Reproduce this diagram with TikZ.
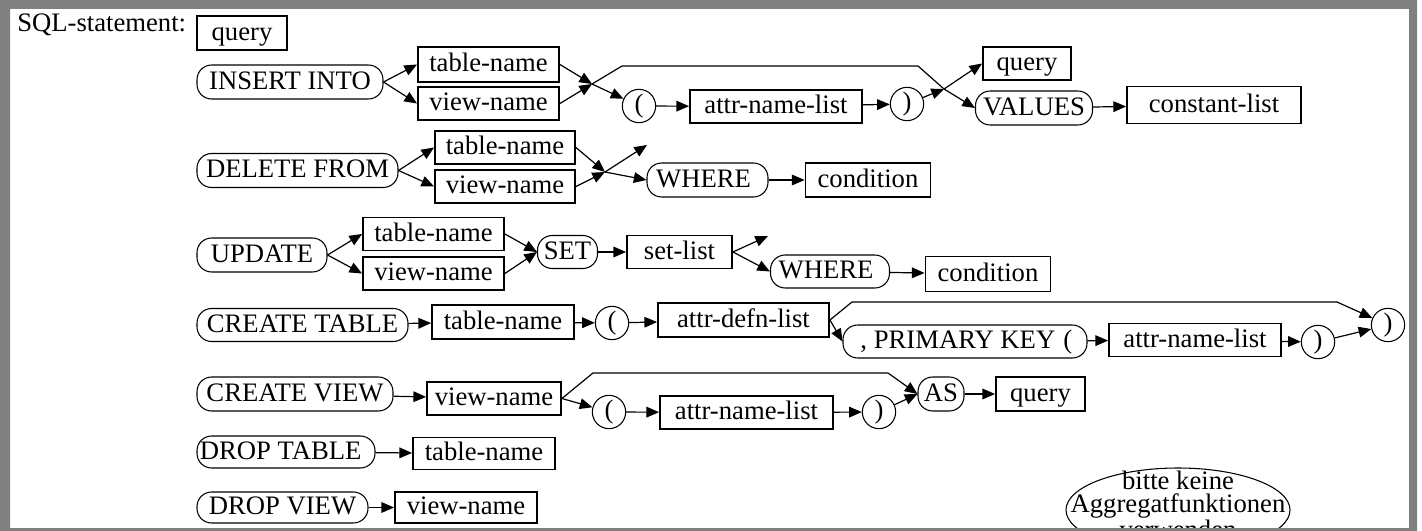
\documentclass[tikz,border=0pt]{standalone}
\usepackage{fontspec}
\setmainfont{Liberation Serif}
\usetikzlibrary{arrows.meta}

\begin{document}
\begin{tikzpicture}[x=0.75pt,y=0.75pt,yscale=-1,xscale=1,
    font=\fontsize{20}{18.75}\selectfont,
    sz/.style 2 args={minimum width=#1*0.75pt,minimum height=#2*0.75pt},
    box/.style={draw,line width=1.4pt,inner sep=0pt,text height=14.2pt,text depth=3pt},
    pill/.style={draw,line width=0.8pt,rounded corners=11pt,inner sep=0pt,text height=14.2pt,text depth=3pt},
    paren/.style={draw,circle,line width=0.8pt,inner sep=0pt,minimum size=25pt},
    arr/.style={line width=0.9pt,-{Triangle[length=9.5pt,width=8pt]}},
    ln/.style={line width=0.9pt}]
%set diagram left start at 0, and has height of 531
\useasboundingbox (0,0) rectangle (1422,531);
\fill [white] (0,0) rectangle (1422,531);

% Text Node
    \node [anchor=base west,inner sep=0pt] (sqllbl) at (17,32) {SQL-statement:};
%Shape: Rectangle
    \node [box,sz={90}{34}] (qry0) at (242,33) {query};

%INSERT INTO
    \node [pill,sz={186}{34}] (ins) at (290,82) {INSERT INTO};
    \node [box,sz={141}{35}] (tn1) at (488.5,64.5) {table-name};
    \node [box,sz={141}{33}] (vn1) at (488.5,103.5) {view-name};
    \coordinate (j1) at (592,84);
    \node [paren] (op1) at (639,106) {(};
    \node [box,sz={172}{33}] (anl1) at (776,106.5) {attr-name-list};
    \node [paren] (cp1) at (907,104) {)};
    \coordinate (b1a) at (622,66);
    \coordinate (b1b) at (918,66);
    \coordinate (j1b) at (944,89);
    \node [box,sz={88}{33}] (qry1) at (1027,63.5) {query};
    \node [pill,sz={117}{34}] (vals) at (1034,108) {VALUES};
    \node [box,sz={174}{37}] (cl) at (1214,105) {constant-list};
%Straight Lines
    \draw [arr] (ins.east) -- (tn1.west);
    \draw [arr] (ins.east) -- (vn1.west);
    \draw [arr] (tn1.east) -- (j1);
    \draw [arr] (vn1.east) -- (j1);
    \draw [arr] (j1) -- (op1);
    \draw [ln] (j1) -- (b1a) -- (b1b) -- (j1b);
    \draw [arr] (op1) -- (anl1);
    \draw [arr] (anl1) -- (cp1);
    \draw [arr] (cp1) -- (j1b);
    \draw [arr] (j1b) -- (qry1.west);
    \draw [arr] (j1b) -- (vals.west);
    \draw [arr] (vals) -- (cl);

%DELETE FROM
    \node [pill,sz={201}{34}] (del) at (297.5,170.5) {DELETE FROM};
    \node [box,sz={140}{33}] (tn2) at (505,147.5) {table-name};
    \node [box,sz={140}{33}] (vn2) at (505,186.5) {view-name};
    \coordinate (j2) at (605,172);
    \coordinate (e2) at (647,145);
    \node [pill,sz={121}{34}] (wh2) at (707.5,180) {WHERE\hspace*{6pt}};
    \node [box,sz={125}{34}] (cond2) at (868,180) {condition};
%Straight Lines
    \draw [arr] (del.east) -- (tn2.west);
    \draw [arr] (del.east) -- (vn2.west);
    \draw [arr] (tn2.east) -- (j2);
    \draw [arr] (vn2.east) -- (j2);
    \draw [arr] (j2) -- (e2);
    \draw [arr] (j2) -- (wh2.west);
    \draw [arr] (wh2) -- (cond2);

%UPDATE
    \node [pill,sz={130}{34}] (upd) at (262,255) {UPDATE};
    \node [box,sz={141}{33}] (tn3) at (433.5,234) {table-name};
    \node [box,sz={141}{33}] (vn3) at (433.5,273.5) {view-name};
    \node [pill,sz={60}{33}] (set) at (567.5,252) {SET};
    \node [box,sz={105}{33}] (sl) at (679.5,252) {set-list};
    \coordinate (e3) at (768,236);
    \node [pill,sz={119}{33}] (wh3) at (830,271.5) {WHERE\hspace*{6pt}};
    \node [box,sz={125}{35}] (cond3) at (988,274) {condition};
%Straight Lines
    \draw [arr] (upd.east) -- (tn3.west);
    \draw [arr] (upd.east) -- (vn3.west);
    \draw [arr] (tn3.east) -- (set.west);
    \draw [arr] (vn3.east) -- (set.west);
    \draw [arr] (set) -- (sl);
    \draw [arr] (sl.east) -- (e3);
    \draw [arr] (sl.east) -- (wh3.west);
    \draw [arr] (wh3) -- (cond3);

%CREATE TABLE
    \node [pill,sz={211}{33}] (crt) at (302.5,325) {CREATE TABLE};
    \node [box,sz={142}{34}] (tn4) at (503,322) {table-name};
    \node [paren] (op4) at (612,323) {(};
    \node [box,sz={171}{34}] (adl) at (743.5,320) {attr-defn-list};
    \coordinate (b4a) at (852,302);
    \coordinate (b4b) at (1337,302);
    \node [pill,sz={244}{33}] (pk) at (965,341.5) {\hspace*{8pt}, PRIMARY KEY\hspace{6pt}(\hspace*{6pt}};
    \node [box,sz={172}{33}] (anl4) at (1195,340) {attr-name-list};
    \node [paren] (cp4) at (1318,342) {)};
    \node [paren] (cp4b) at (1388,325) {)};
%Straight Lines
    \draw [arr] (crt) -- (tn4);
    \draw [arr] (tn4) -- (op4);
    \draw [arr] (op4) -- (adl);
    \draw [arr] (adl.east) -- (pk.west);
    \draw [ln] (adl.east) -- (b4a) -- (b4b);
    \draw [arr] (b4b) -- (cp4b);
    \draw [arr] (pk) -- (anl4);
    \draw [arr] (anl4) -- (cp4);
    \draw [arr] (cp4) -- (cp4b);

%CREATE VIEW
    \node [pill,sz={196}{34}] (crv) at (295,394) {CREATE VIEW};
    \node [box,sz={134}{33}] (vn5) at (494,398.5) {view-name};
    \coordinate (b5a) at (593,373);
    \coordinate (b5b) at (888,373);
    \node [paren] (op5) at (609,412) {(};
    \node [box,sz={173}{33}] (anl5) at (746.5,412.5) {attr-name-list};
    \node [paren] (cp5) at (879,412) {)};
    \node [pill,sz={46}{34}] (as) at (941,394) {AS};
    \node [box,sz={89}{34}] (qry5) at (1040.5,394) {query};
%Straight Lines
    \draw [arr] (crv) -- (vn5);
    \draw [ln] (vn5.east) -- (b5a) -- (b5b);
    \draw [arr] (b5b) -- (as.west);
    \draw [arr] (vn5.east) -- (op5);
    \draw [arr] (op5) -- (anl5);
    \draw [arr] (anl5) -- (cp5);
    \draw [arr] (cp5) -- (as.west);
    \draw [arr] (as) -- (qry5);

%DROP TABLE
    \node [pill,sz={178}{32}] (drt) at (286,452) {DROP TABLE\hspace*{8pt}};
    \node [box,sz={142}{32}] (tn6) at (484,453.5) {table-name};
    \draw [arr] (drt) -- (tn6);

%DROP VIEW
    \node [pill,sz={171}{31}] (drv) at (282.5,507.5) {DROP VIEW};
    \node [box,sz={142}{31}] (vn7) at (466,507.5) {view-name};
    \draw [arr] (drv) -- (vn7);

% Text Node
    \node [align=center,inner sep=0pt,font=\fontsize{20}{17.5}\selectfont] (hint) at (1178,505) {bitte keine\\Aggregatfunktionen\\verwenden};
%Shape: Ellipse
    \draw [line width=0.8pt] (1178,510) ellipse [x radius=112,y radius=42];

%Shape: Frame
    \fill [gray,even odd rule] (0,0) rectangle (1417,531) (10,9) rectangle (1409,528);
\end{tikzpicture}
\end{document}
